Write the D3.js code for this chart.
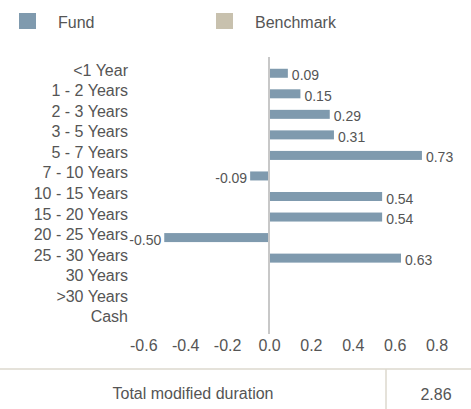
<!DOCTYPE html>
<html>
<head>
<meta charset="utf-8">
<script src="https://cdn.jsdelivr.net/npm/d3@7"></script>
<style>
  body { margin: 0; background: #fff; }
  svg { display: block; font-family: "Liberation Sans", Arial, sans-serif; }
</style>
</head>
<body>
<svg id="chart"></svg>
<script>
const width = 471;
const height = 409;

const categories = ["<1 Year", "1 - 2 Years", "2 - 3 Years", "3 - 5 Years", "5 - 7 Years", "7 - 10 Years",
  "10 - 15 Years", "15 - 20 Years", "20 - 25 Years", "25 - 30 Years", "30 Years", ">30 Years", "Cash"];
const fundValues = [0.09, 0.15, 0.29, 0.31, 0.73, -0.09, 0.54, 0.54, -0.50, 0.63, null, null, null];
const xTicks = [-0.6, -0.4, -0.2, 0.0, 0.2, 0.4, 0.6, 0.8];
const legendItems = ["Fund", "Benchmark"];
const totalLabel = "Total modified duration";
const totalValue = "2.86";

const fundColor = "#7f9aae";
const benchColor = "#c8c1ae";
const textColor = "#555555";

// plain hyphen for negatives, like the original
const fmt2 = v => v.toFixed(2);
const fmt1 = v => v.toFixed(1);

const svg = d3.select("#chart").attr("width", width).attr("height", height);

// legend
const legendX = [19, 216];
const legendColors = [fundColor, benchColor];
const legend = svg.append("g");
legend.selectAll("rect").data(legendItems).enter().append("rect")
  .attr("x", (d, i) => legendX[i]).attr("y", 13).attr("width", 17).attr("height", 16)
  .attr("fill", (d, i) => legendColors[i]);
legend.selectAll("text").data(legendItems).enter().append("text")
  .attr("x", (d, i) => legendX[i] + 39).attr("y", 28)
  .attr("font-size", 16).attr("fill", textColor).text(d => d);

const x = d3.scaleLinear().domain([-0.6, 0.8]).range([143.3, 436.6]);
const y = d3.scalePoint().domain(categories).range([63, 330]).padding(0.5);
const barH = 9;

// category labels
svg.selectAll(".cat").data(categories).enter().append("text")
  .attr("class", "cat")
  .attr("x", 128).attr("y", d => y(d) + 2.5)
  .attr("text-anchor", "end").attr("font-size", 16).attr("fill", textColor)
  .text(d => d);

const rows = categories.map((c, i) => ({ cat: c, v: fundValues[i] })).filter(d => d.v !== null);

// bars
svg.selectAll(".bar").data(rows).enter().append("rect")
  .attr("class", "bar")
  .attr("x", d => d.v >= 0 ? x(0) + 1 : x(d.v))
  .attr("y", d => y(d.cat) - barH / 2)
  .attr("width", d => Math.abs(x(d.v) - x(0)) - 1)
  .attr("height", barH)
  .attr("fill", fundColor);

// value labels
svg.selectAll(".val").data(rows).enter().append("text")
  .attr("class", "val")
  .attr("x", d => d.v >= 0 ? x(d.v) + 4 : x(d.v) - 3)
  .attr("y", d => y(d.cat) + 7)
  .attr("text-anchor", d => d.v >= 0 ? "start" : "end")
  .attr("font-size", 14).attr("fill", textColor)
  .text(d => fmt2(d.v));

// zero line
svg.append("line")
  .attr("x1", x(0)).attr("x2", x(0)).attr("y1", 57).attr("y2", 334)
  .attr("stroke", "#c8c8c8").attr("stroke-width", 2);

// x axis labels
const xAxis = svg.append("g").attr("transform", "translate(0,334)")
  .call(d3.axisBottom(x).tickValues(xTicks).tickFormat(fmt1).tickSize(0).tickPadding(0));
xAxis.select(".domain").remove();
xAxis.selectAll("text").attr("dy", 0).attr("y", 17)
  .attr("font-size", 16).attr("font-family", "Liberation Sans, Arial, sans-serif").attr("fill", textColor);

// footer table
svg.append("line").attr("x1", 0).attr("x2", width).attr("y1", 369).attr("y2", 369)
  .attr("stroke", "#dcd8ce").attr("stroke-width", 1.5);
svg.append("line").attr("x1", 386).attr("x2", 386).attr("y1", 369).attr("y2", height)
  .attr("stroke", "#dcd8ce").attr("stroke-width", 1.5);
svg.append("text").attr("x", 193).attr("y", 399).attr("text-anchor", "middle")
  .attr("font-size", 16).attr("fill", textColor).text(totalLabel);
svg.append("text").attr("x", 436).attr("y", 400).attr("text-anchor", "middle")
  .attr("font-size", 16).attr("fill", textColor).text(totalValue);
</script>
</body>
</html>
